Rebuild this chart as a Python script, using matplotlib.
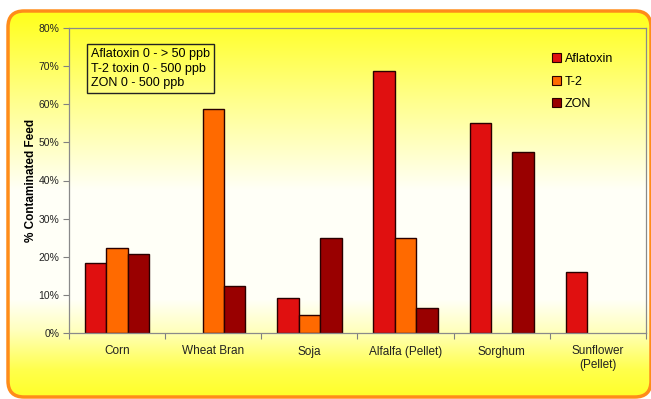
import numpy as np
import matplotlib
matplotlib.use("Agg")
import matplotlib.pyplot as plt
from matplotlib.patches import FancyBboxPatch, Patch

plt.rcParams['font.family'] = ['Liberation Sans', 'DejaVu Sans']

categories = ["Corn", "Wheat Bran", "Soja", "Alfalfa (Pellet)", "Sorghum", "Sunflower\n(Pellet)"]
aflatoxin = [18.3, 0, 9.2, 68.6, 55.0, 16.1]
t2 = [22.4, 58.8, 4.6, 24.9, 0, 0]
zon = [20.7, 12.3, 25.0, 6.6, 47.4, 0]
series_names = ["Aflatoxin", "T-2", "ZON"]
yticks = [0, 10, 20, 30, 40, 50, 60, 70, 80]
note = "Aflatoxin 0 - > 50 ppb\nT-2 toxin 0 - 500 ppb\nZON 0 - 500 ppb"

colors = ["#e01010", "#ff6a00", "#990000"]

W, H = 651, 399
fig = plt.figure(figsize=(W / 100, H / 100), dpi=100)
fig.patch.set_facecolor("white")

# background panel: rounded box with yellow-white-yellow gradient
bg = fig.add_axes([0, 0, 1, 1])
bg.set_xlim(0, W)
bg.set_ylim(H, 0)
bg.axis("off")
ys = np.linspace(0, H, 400)
blue = np.interp(ys, [0, 15, 100, 190, 300, 330, 370, 399],
                 [0.1, 0.12, 0.55, 0.97, 0.97, 0.75, 0.3, 0.15])
grad = np.zeros((len(ys), 1, 3))
grad[:, 0, 0] = 1.0
grad[:, 0, 1] = 1.0
grad[:, 0, 2] = blue
box = FancyBboxPatch((8, 11), 643, 386, boxstyle="round,pad=0,rounding_size=16",
                     facecolor="none", edgecolor="#ff8c1a", linewidth=2.5, zorder=3)
bg.add_patch(box)
im = bg.imshow(grad, extent=(0, W, H, 0), aspect="auto", zorder=1)
im.set_clip_path(box)

ax = fig.add_axes([69 / W, 1 - 333 / H, (646 - 69) / W, (333 - 28) / H])
ax.patch.set_alpha(0)

x = np.arange(len(categories))
w = 0.223
for i, (vals, name) in enumerate(zip([aflatoxin, t2, zon], series_names)):
    # no outline on empty bars
    lws = [1.0 if v > 0 else 0 for v in vals]
    ax.bar(x + (i - 1) * w, vals, w, color=colors[i], edgecolor="#2a0000",
           linewidth=lws, label=name, zorder=2)

ax.set_xlim(-0.5, len(categories) - 0.5)
ax.set_ylim(0, 80)
ax.set_yticks(yticks)
ax.set_yticklabels([f"{v}%" for v in yticks], fontsize=7.5, color="#222222")
ax.set_xticks(np.arange(-0.5, len(categories)), labels=[])
ax.set_xticks(x, labels=categories, minor=True, fontsize=8.5, color="#222222")
ax.tick_params(axis="x", which="minor", length=0, pad=9)
ax.tick_params(axis="x", which="major", length=4, color="#808080")
ax.tick_params(axis="y", length=4, color="#808080", pad=3)
for s in ax.spines.values():
    s.set_color("#8a8a8a")
    s.set_linewidth(0.9)

ax.set_ylabel("% Contaminated Feed", fontsize=8.5, fontweight="bold", labelpad=1)

ax.text(0.038, 0.935, note, transform=ax.transAxes, fontsize=9, va="top", ha="left",
        linespacing=1.3,
        bbox=dict(boxstyle="square,pad=0.3", facecolor="none", edgecolor="#222222", linewidth=1))

handles = [Patch(facecolor=c, edgecolor="#2a0000", linewidth=0.8) for c in colors]
ax.legend(handles, series_names, loc="upper left", bbox_to_anchor=(0.818, 0.955),
          frameon=False, fontsize=9, handlelength=0.7, handleheight=0.7,
          handletextpad=0.3, labelspacing=0.85)

fig.savefig("out.png", dpi=100)
